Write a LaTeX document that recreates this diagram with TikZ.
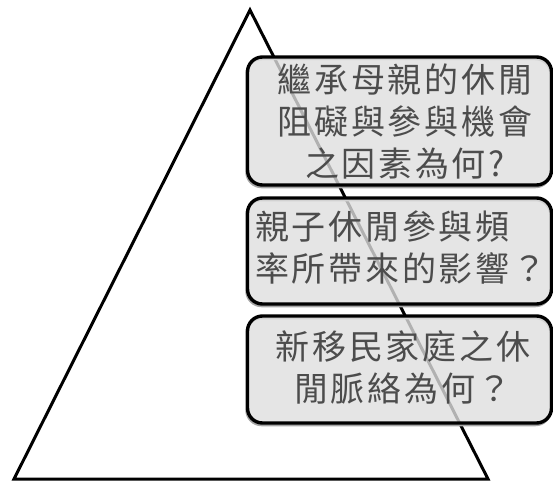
\documentclass[tikz,border=0pt]{standalone}
\usepackage{fontspec}
\newfontfamily\cjk[LetterSpace=8]{Noto Sans CJK TC}
\begin{document}
\begin{tikzpicture}[x=1pt,y=-1pt,
  qbox/.style={draw=black, line width=3.4pt, rounded corners=15pt, fill=black!13, fill opacity=0.8, inner sep=0pt},
  qshadow/.style={draw=black!35, line width=2.5pt, rounded corners=15pt, inner sep=0pt},
  qtext/.style={font=\cjk\fontsize{34}{42}\selectfont, text=black!70, inner sep=0pt}]
\useasboundingbox (0,0) rectangle (553,481);
% pyramid
\coordinate (apex) at (250,10);
\coordinate (bl) at (14,479);
\coordinate (br) at (488,479);
\draw[line width=3pt, line join=miter] (apex) -- (br) -- (bl) -- cycle;
% shadows
\node[qshadow, minimum width=304pt, minimum height=128pt] (s1) at (398.5,123) {};
\node[qshadow, minimum width=304pt, minimum height=106pt] (s2) at (398.5,253) {};
\node[qshadow, minimum width=304pt, minimum height=107pt] (s3) at (398.5,371.5) {};
% boxes
\node[qbox, minimum width=304pt, minimum height=128pt] (b1) at (399.5,121) {};
\node[qbox, minimum width=304pt, minimum height=106pt] (b2) at (399.5,251) {};
\node[qbox, minimum width=304pt, minimum height=107pt] (b3) at (399.5,369.5) {};
% texts
\node[qtext, align=center] (t1) at (405,122) {繼承母親的休閒\\阻礙與參與機會\\之因素為何?};
\node[qtext, align=left, anchor=west] (t2) at (255,247.5) {親子休閒參與頻\\率所帶來的影響？};
\node[qtext, align=center] (t3) at (403,367.5) {新移民家庭之休\\閒脈絡為何？};
\end{tikzpicture}
\end{document}
